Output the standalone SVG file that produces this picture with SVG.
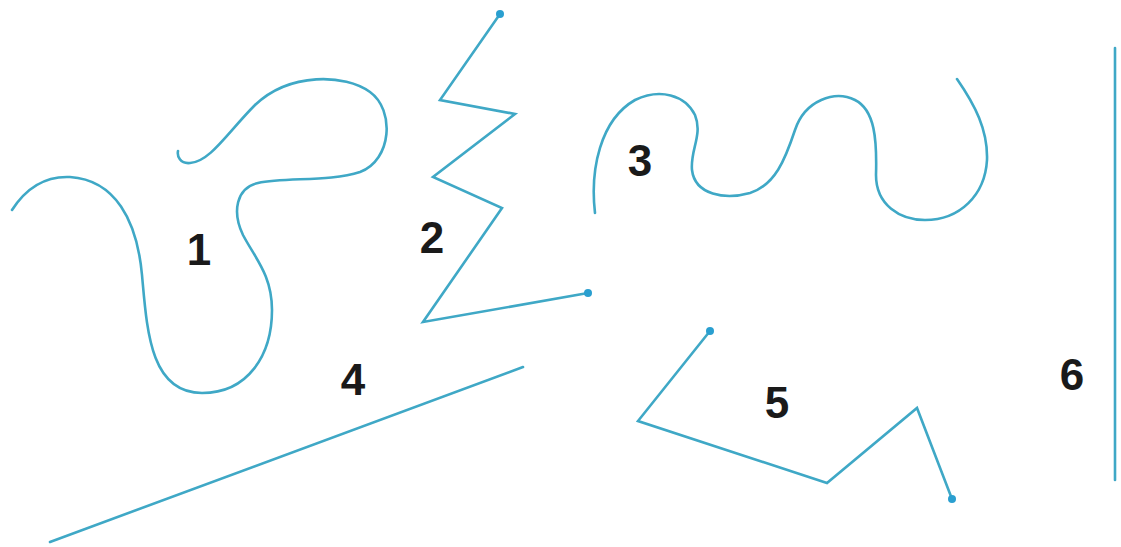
<svg xmlns="http://www.w3.org/2000/svg" width="1121" height="547" viewBox="0 0 1121 547">
<style>
.ln{fill:none;stroke:#3fa8c6;stroke-width:2.6;stroke-linecap:round;stroke-linejoin:miter}
.dot{fill:#2a9fd0}
.lbl{font-family:"Liberation Sans",Arial,sans-serif;font-weight:bold;font-size:44px;fill:#1a1a1a;text-anchor:middle}
</style>
<rect width="1121" height="547" fill="#ffffff"/>
<g id="connectors">
<g id="line1"><path class="ln" d="M12,210 C28,185 48,176 70,177 C115,180 137,220 142,275 C147,330 150,393 202,393 C248,393 272,355 272,310 C272,275 255,258 243,235 C232,212 236,188 258,183 C285,177 330,182 360,172 C392,160 395,110 370,92 C345,74 290,72 255,105 C228,132 210,162 190,163 C180,164 177,156 178,151"/></g>
<g id="line2"><polyline class="ln" points="500,14 440,100 515,114 433,177 502,208 423,322 588,293"/><circle class="dot" cx="500" cy="14" r="4"/><circle class="dot" cx="588" cy="293" r="4"/></g>
<g id="line3"><path class="ln" d="M595,213 C590,170 600,120 635,100 C660,88 685,95 695,115 C703,135 690,150 692,170 C695,195 725,200 750,193 C775,185 785,160 795,130 C805,100 835,90 855,100 C875,110 877,140 876,175 C876,205 900,220 925,220 C960,220 985,195 987,160 C988,130 975,105 957,79"/></g>
<g id="line4"><line class="ln" x1="50" y1="542" x2="523" y2="367"/></g>
<g id="line5"><polyline class="ln" points="710,331 638,421 827,483 917,408 952,499"/><circle class="dot" cx="710" cy="331" r="4"/><circle class="dot" cx="952" cy="499" r="4"/></g>
<g id="line6"><line class="ln" x1="1115" y1="48" x2="1115" y2="480" stroke-width="2.2"/></g>
</g>
<g id="label1"><text class="lbl" x="199" y="265">1</text></g>
<g id="label2"><text class="lbl" x="432" y="253">2</text></g>
<g id="label3"><text class="lbl" x="640" y="176">3</text></g>
<g id="label4"><text class="lbl" x="353" y="395">4</text></g>
<g id="label5"><text class="lbl" x="777" y="418">5</text></g>
<g id="label6"><text class="lbl" x="1072" y="390">6</text></g>
</svg>
